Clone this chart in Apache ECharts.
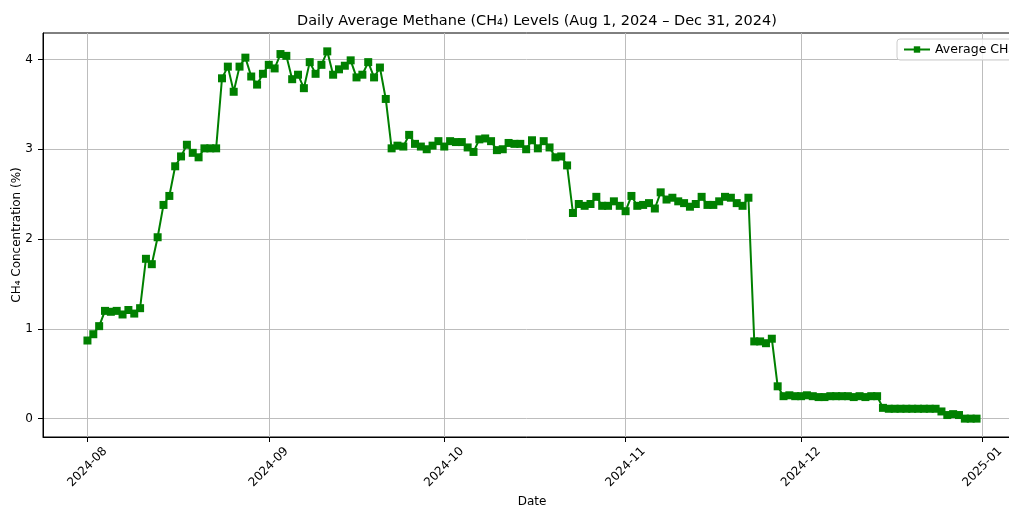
<!DOCTYPE html>
<html>
<head>
<meta charset="utf-8">
<script src="https://cdn.jsdelivr.net/npm/echarts@6/dist/echarts.min.js"></script>
<style>
    html, body { margin: 0; padding: 0; background: #fff; }
    #chart { width: 1009px; height: 506px; }
</style>
</head>
<body>
<div id="chart"></div>
<script type="text/javascript">
    // daily values, Aug 1 .. Dec 31, 2024
    var startDate = '2024-08-01';
    var dayCount = 153;
    var ch4Aug = [0.87, 0.94, 1.03, 1.20, 1.19, 1.20, 1.16, 1.21, 1.17, 1.23,
        1.78, 1.72, 2.02, 2.38, 2.48, 2.81, 2.92, 3.05, 2.96, 2.91,
        3.01, 3.01, 3.01, 3.79, 3.92, 3.64, 3.92, 4.02, 3.81, 3.72, 3.84];
    var ch4Sep = [3.94, 3.90, 4.06, 4.04, 3.78, 3.83, 3.68, 3.97, 3.84, 3.94,
        4.09, 3.83, 3.89, 3.93, 3.99, 3.80, 3.83, 3.97, 3.80, 3.91,
        3.56, 3.01, 3.04, 3.03, 3.16, 3.06, 3.03, 3.00, 3.04, 3.09];
    var ch4Oct = [3.03, 3.09, 3.08, 3.08, 3.02, 2.97, 3.11, 3.12, 3.09, 2.99,
        3.00, 3.07, 3.06, 3.06, 3.00, 3.10, 3.01, 3.09, 3.02, 2.91,
        2.92, 2.82, 2.29, 2.39, 2.37, 2.39, 2.47, 2.37, 2.37, 2.42, 2.37];
    var ch4Nov = [2.31, 2.48, 2.37, 2.38, 2.40, 2.34, 2.52, 2.44, 2.46, 2.42,
        2.40, 2.36, 2.39, 2.47, 2.38, 2.38, 2.42, 2.47, 2.46, 2.40,
        2.37, 2.46, 0.86, 0.86, 0.84, 0.89, 0.36, 0.25, 0.26, 0.25];
    var ch4Dec = [0.25, 0.26, 0.25, 0.24, 0.24, 0.25, 0.25, 0.25, 0.25, 0.24,
        0.25, 0.24, 0.25, 0.25, 0.12, 0.11, 0.11, 0.11, 0.11, 0.11,
        0.11, 0.11, 0.11, 0.11, 0.08, 0.04, 0.05, 0.04, 0.00, 0.00, 0.00];
    var monthTicks = ['2024-08-01', '2024-09-01', '2024-10-01', '2024-11-01', '2024-12-01', '2025-01-01'];
    var yTicks = [0, 1, 2, 3, 4];

    var DAY = 86400000;
    function toUTC(s) {
        var p = s.split('-');
        return Date.UTC(+p[0], +p[1] - 1, +p[2]);
    }
    function pad(n) { return (n < 10 ? '0' : '') + n; }

    var ch4Values = ch4Aug.concat(ch4Sep, ch4Oct, ch4Nov, ch4Dec);
    var t0 = toUTC(startDate);
    var points = [];
    for (var i = 0; i < dayCount; i++) {
        points.push([t0 + i * DAY, ch4Values[i]]);
    }
    var tickTimes = monthTicks.map(toUTC);

    // matplotlib style 5% margins
    var xSpan = (dayCount - 1) * DAY;
    var xMin = t0 - 0.05 * xSpan, xMax = t0 + xSpan + 0.05 * xSpan;
    var yLo = Math.min.apply(null, ch4Values), yHi = Math.max.apply(null, ch4Values);
    var yMin = yLo - 0.05 * (yHi - yLo), yMax = yHi + 0.05 * (yHi - yLo);

    var font = 'DejaVu Sans';
    var chart = echarts.init(document.getElementById('chart'));
    var option = {
        animation: false,
        title: {
            text: 'Daily Average Methane (CH\u2084) Levels (Aug 1, 2024 \u2013 Dec 31, 2024)',
            left: 532, textAlign: 'center', top: 9,
            textStyle: { fontFamily: font, fontSize: 14.5, fontWeight: 'normal', color: '#000' }
        },
        legend: {
            left: 897, top: 39,
            padding: [4, 6],
            itemWidth: 26, itemHeight: 8,
            borderColor: '#cccccc', borderWidth: 1, borderRadius: 3,
            backgroundColor: 'rgba(255,255,255,0.8)',
            textStyle: { fontFamily: font, fontSize: 12.5, color: '#000' },
            data: ['Average CH\u2084']
        },
        grid: {
            left: 43, top: 33, right: -12, bottom: 69,
            containLabel: false, outerBoundsMode: 'none',
            show: true, borderColor: '#000', borderWidth: 1, backgroundColor: 'transparent'
        },
        xAxis: {
            type: 'value',
            min: xMin, max: xMax,
            name: 'Date', nameLocation: 'middle', nameGap: 59, nameMoveOverlap: false,
            nameTextStyle: { fontFamily: font, fontSize: 12, color: '#000' },
            axisLine: { onZero: false, lineStyle: { color: '#000', width: 1 } },
            axisTick: { show: true, inside: false, length: 5, lineStyle: { color: '#000' }, customValues: tickTimes },
            axisLabel: {
                customValues: tickTimes,
                rotate: 45, align: 'center', verticalAlign: 'middle', margin: 30,
                fontFamily: font, fontSize: 12, color: '#000',
                formatter: function (v) {
                    var d = new Date(v);
                    return d.getUTCFullYear() + '-' + pad(d.getUTCMonth() + 1);
                }
            },
            splitLine: { show: true, lineStyle: { color: '#bdbdbd', width: 1 } }
        },
        yAxis: {
            type: 'value',
            min: yMin, max: yMax,
            name: 'CH\u2084 Concentration (%)', nameLocation: 'middle', nameGap: 20, nameMoveOverlap: false,
            nameTextStyle: { fontFamily: font, fontSize: 12, color: '#000' },
            axisLine: { show: true, onZero: false, lineStyle: { color: '#000', width: 1 } },
            axisTick: { show: true, inside: false, length: 5, lineStyle: { color: '#000' }, customValues: yTicks },
            axisLabel: {
                customValues: yTicks,
                margin: 10, fontFamily: font, fontSize: 12, color: '#000'
            },
            splitLine: { show: true, lineStyle: { color: '#bdbdbd', width: 1 } }
        },
        series: [{
            name: 'Average CH\u2084',
            type: 'line',
            data: points,
            symbol: 'rect',
            symbolSize: 8,
            showAllSymbol: true,
            lineStyle: { color: '#008000', width: 2 },
            itemStyle: { color: '#008000' }
        }]
    };
    chart.setOption(option);
</script>
</body>
</html>
